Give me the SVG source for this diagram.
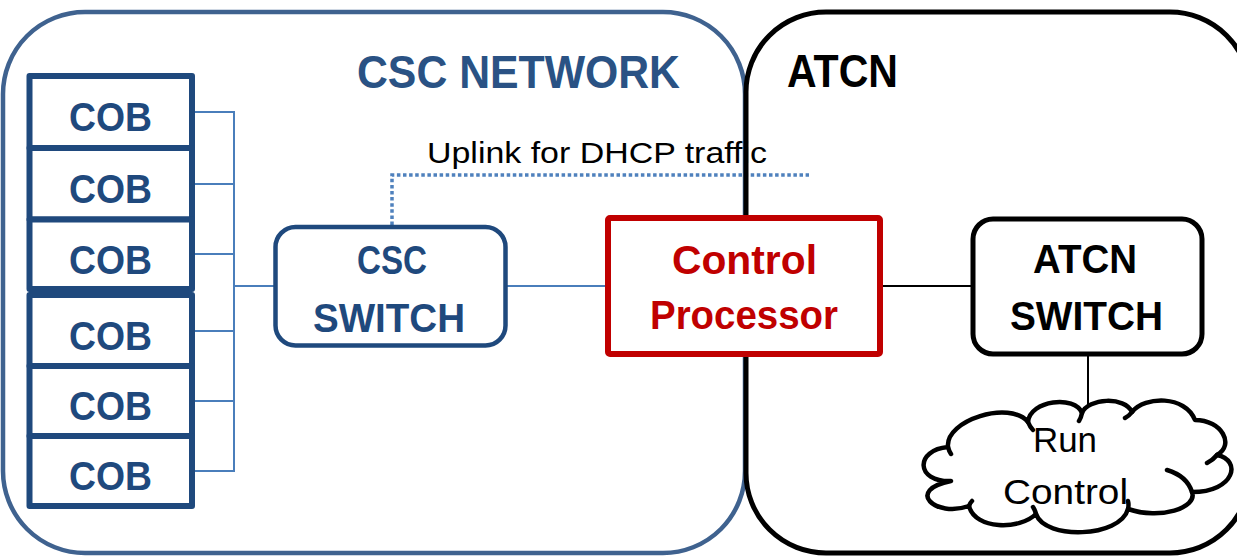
<svg xmlns="http://www.w3.org/2000/svg" width="1237" height="556" viewBox="0 0 1237 556">
  <style>
    .bold { font-family: "Liberation Sans", Arial, sans-serif; font-weight: bold; }
    .reg { font-family: "Liberation Sans", Arial, sans-serif; }
    .cob rect { fill: #ffffff; stroke: #1F497D; stroke-width: 6; stroke-linejoin: round; }
    .cob text { fill: #1F497D; font-size: 40px; }
    .bus { fill: none; stroke: #4A7EBB; stroke-width: 2; }
    .blk { fill: none; stroke: #000000; stroke-width: 2; }
  </style>
  <rect width="1237" height="556" fill="#ffffff"/>

  <g id="csc-network">
    <rect x="3" y="12" width="742" height="541" rx="82" ry="82" fill="#ffffff" stroke="#3F628F" stroke-width="4.5"/>
    <text class="bold" x="357" y="88" font-size="46" fill="#2A5284" textLength="323" lengthAdjust="spacingAndGlyphs">CSC NETWORK</text>
  </g>

  <g id="connectors">
    <path class="bus" d="M192,112 H234 M192,184 H234 M192,254 H234 M192,331 H234 M192,401 H234 M192,471 H234 M234,111 V472 M234,286 H275"/>
    <path class="bus" d="M505.5,286 H608"/>
    <path class="blk" d="M880,286 H973"/>
    <path class="blk" d="M1088,354 V410"/>
    <path d="M392,225 V175 H809" fill="none" stroke="#4F81BD" stroke-width="3.5" stroke-dasharray="3.5 2.6"/>
    <text class="reg" x="427" y="163" font-size="30" fill="#000000" textLength="340" lengthAdjust="spacingAndGlyphs">Uplink for DHCP traffic</text>
  </g>

  <g id="atcn-network">
    <rect x="746" y="12" width="504" height="541" rx="80" ry="80" fill="none" stroke="#000000" stroke-width="5"/>
    <text class="bold" x="787" y="87" font-size="46" fill="#000000" textLength="111" lengthAdjust="spacingAndGlyphs">ATCN</text>
  </g>

  <g id="cob-1" class="cob"><rect x="29.5" y="76" width="162.5" height="72"/><text class="bold" x="69" y="131" textLength="83" lengthAdjust="spacingAndGlyphs">COB</text></g>
  <g id="cob-2" class="cob"><rect x="29.5" y="148" width="162.5" height="71.5"/><text class="bold" x="69" y="203" textLength="83" lengthAdjust="spacingAndGlyphs">COB</text></g>
  <g id="cob-3" class="cob"><rect x="29.5" y="219.5" width="162.5" height="69.5"/><text class="bold" x="69" y="274" textLength="83" lengthAdjust="spacingAndGlyphs">COB</text></g>
  <g id="cob-4" class="cob"><rect x="29.5" y="295" width="162.5" height="71"/><text class="bold" x="69" y="350" textLength="83" lengthAdjust="spacingAndGlyphs">COB</text></g>
  <g id="cob-5" class="cob"><rect x="29.5" y="366" width="162.5" height="70"/><text class="bold" x="69" y="420" textLength="83" lengthAdjust="spacingAndGlyphs">COB</text></g>
  <g id="cob-6" class="cob"><rect x="29.5" y="436" width="162.5" height="70"/><text class="bold" x="69" y="490" textLength="83" lengthAdjust="spacingAndGlyphs">COB</text></g>

  <g id="csc-switch">
    <rect x="275.5" y="227" width="230" height="118.5" rx="20" ry="20" fill="#ffffff" stroke="#1F497D" stroke-width="4.5"/>
    <text class="bold" x="357" y="274" font-size="41" fill="#1F497D" textLength="70" lengthAdjust="spacingAndGlyphs">CSC</text>
    <text class="bold" x="313" y="332" font-size="41" fill="#1F497D" textLength="152" lengthAdjust="spacingAndGlyphs">SWITCH</text>
  </g>

  <g id="control-processor">
    <rect x="608" y="218" width="272" height="136" rx="2" ry="2" fill="#ffffff" stroke="#C00000" stroke-width="6"/>
    <text class="bold" x="672" y="274" font-size="41" fill="#C00000" textLength="145" lengthAdjust="spacingAndGlyphs">Control</text>
    <text class="bold" x="650" y="329" font-size="41" fill="#C00000" textLength="188" lengthAdjust="spacingAndGlyphs">Processor</text>
  </g>

  <g id="atcn-switch">
    <rect x="973" y="219" width="229" height="135" rx="20" ry="20" fill="#ffffff" stroke="#000000" stroke-width="5"/>
    <text class="bold" x="1033" y="273" font-size="41" fill="#000000" textLength="104" lengthAdjust="spacingAndGlyphs">ATCN</text>
    <text class="bold" x="1010" y="330" font-size="41" fill="#000000" textLength="153" lengthAdjust="spacingAndGlyphs">SWITCH</text>
  </g>

  <g id="run-control">
    <path d="M948,447 C945,420 1010,400 1028,422 C1030,400 1075,395 1082,413 C1088,398 1125,396 1132,412 C1145,396 1185,395 1195,420 C1222,420 1235,445 1217,455 C1242,460 1235,492 1192,492 C1198,508 1160,520 1128,509 C1120,538 1045,540 1036,514 C1020,530 975,530 969,506 C935,518 905,490 951,481 C915,482 915,450 948,447 Z" fill="#ffffff" stroke="#000000" stroke-width="4.5" stroke-linejoin="round"/>
    <path d="M948,447 q1,4 3,7 M1028,422 q2,5 5,8 M1082,413 q-1,5 -3,8 M1132,412 q-3,4 -7,6 M1217,455 q-4,5 -10,8 M1167,470 q20,6 25,22 M1128,509 q1,-4 0,-8 M1036,514 q-1,-4 -3,-7 M969,506 q1,-3 3,-5" fill="none" stroke="#000000" stroke-width="4.5" stroke-linecap="round"/>
    <text class="reg" x="1033" y="452" font-size="35" fill="#000000" textLength="64" lengthAdjust="spacingAndGlyphs">Run</text>
    <text class="reg" x="1003" y="504" font-size="35" fill="#000000" textLength="125" lengthAdjust="spacingAndGlyphs">Control</text>
  </g>
</svg>
